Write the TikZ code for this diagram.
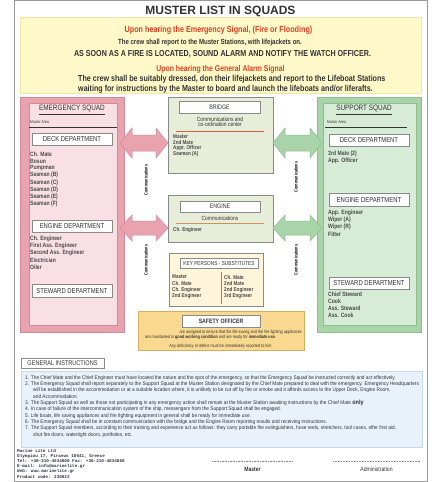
\documentclass[tikz,border=0pt]{standalone}
\usepackage{fontspec}
\setmainfont{Liberation Sans}
\newfontfamily\nar[FakeStretch=0.82]{Liberation Sans}
\newfontfamily\narw[FakeStretch=0.9]{Liberation Sans}
\newfontfamily\monof{Liberation Mono}
\usetikzlibrary{calc}
\definecolor{darktxt}{HTML}{333333}
\definecolor{memtxt}{HTML}{4A4A4A}
\definecolor{redtxt}{HTML}{E0401F}
\definecolor{framec}{HTML}{9A9A9A}
\definecolor{yellowbg}{HTML}{FFF8C8}
\definecolor{yellowbd}{HTML}{F2E6A8}
\definecolor{pinkout}{HTML}{E8A3AF}
\definecolor{pinkin}{HTML}{F9E0E5}
\definecolor{pinkbd}{HTML}{D4899A}
\definecolor{greenout}{HTML}{A9D3A9}
\definecolor{greenin}{HTML}{D6ECD6}
\definecolor{greenbd}{HTML}{8DBF8D}
\definecolor{bridgebg}{HTML}{E6EDD9}
\definecolor{keybg}{HTML}{FFF5DA}
\definecolor{safebg}{HTML}{F9D98F}
\definecolor{safebd}{HTML}{D4AE5E}
\definecolor{bluebg}{HTML}{E9F2FB}
\definecolor{bluebd}{HTML}{C4DBEF}
\definecolor{boxgrey}{HTML}{8A8A8A}
\definecolor{lineorange}{HTML}{E0603A}
\definecolor{linetan}{HTML}{D0905A}
\newcommand\myfs[2]{\fontsize{#1}{#2}\selectfont}
\newcommand\dbla[6]{%
  \filldraw[#1] (#2,#4) -- (#2+12,#4-#5) -- (#2+12,#4-#6) -- (#3-12,#4-#6) -- (#3-12,#4-#5) -- (#3,#4)
    -- (#3-12,#4+#5) -- (#3-12,#4+#6) -- (#2+12,#4+#6) -- (#2+12,#4+#5) -- cycle;}
\tikzset{
  hdr/.style={inner sep=0pt, font=\nar\bfseries\myfs{8.7}{9}, text=darktxt},
  hdrred/.style={hdr, text=redtxt},
  mem/.style={inner sep=0pt, anchor=west, font=\nar\bfseries\myfs{6.2}{6.5}, text=memtxt},
  memsm/.style={mem, font=\nar\bfseries\myfs{5.6}{6}},
  tiny/.style={inner sep=0pt, anchor=west, font=\nar\myfs{4.2}{5}, text=darktxt},
  deptbox/.style={draw=boxgrey, line width=0.8pt, fill=white, inner sep=0pt, minimum width=80pt, minimum height=12pt, font=\nar\myfs{7.2}{8}, text=darktxt},
  titlebox/.style={draw=boxgrey, line width=0.8pt, fill=white, inner sep=0pt, minimum width=81pt, minimum height=12pt, font=\nar\myfs{6.5}{7}, text=darktxt},
  sqtitle/.style={inner sep=0pt, font=\nar\myfs{7.8}{9}, text=darktxt},
  comm/.style={inner sep=0pt, rotate=90, font=\nar\bfseries\myfs{4.6}{5}, text=black},
  instr/.style={inner sep=0pt, anchor=west, font=\narw\myfs{5.3}{5.5}, text=darktxt},
  foot/.style={inner sep=0pt, anchor=west, font=\monof\bfseries\myfs{4.3}{5}, text=darktxt!90!blue},
  safetxt/.style={inner sep=0pt, font=\nar\myfs{4.6}{5}, text=darktxt},
  pinkarr/.style={fill=pinkout, draw=pinkbd, line width=0.5pt},
  greenarr/.style={fill=greenout, draw=greenbd, line width=0.5pt},
  small/.style={inner sep=0pt, font=\nar\myfs{6}{6.5}, text=darktxt}
}
\begin{document}
\begin{tikzpicture}[x=1pt,y=-1pt]
\useasboundingbox[fill=white] (0,0) rectangle (441,482);
% frame
\draw[framec, line width=0.8pt] (14,0.5) rectangle (427,481);
\node[inner sep=0pt, font=\bfseries\myfs{12}{14}, text=darktxt] (title) at (220.5,11) {MUSTER LIST IN SQUADS};

% header box
\node[fill=yellowbg, draw=yellowbd, minimum width=401pt, minimum height=76pt, inner sep=0pt] (hbox) at (220.5,55) {};
\node[hdrred, font=\nar\bfseries\myfs{8.8}{9}] (h1) at (218.5,30) {Upon hearing the Emergency Signal, (Fire or Flooding)};
\node[hdr, font=\nar\bfseries\myfs{7.4}{9}] (h2) at (210,43) {The crew shall report to the Muster Stations, with lifejackets on.};
\node[hdr] (h3) at (222.5,54) {AS SOON AS A FIRE IS LOCATED, SOUND ALARM AND NOTIFY THE WATCH OFFICER.};
\node[hdrred, font=\nar\bfseries\myfs{8.4}{9}] (h4) at (220.5,69.5) {Upon hearing the General Alarm Signal};
\node[hdr, anchor=west] (h5) at (78,79.5) {The crew shall be suitably dressed, don their lifejackets and report to the Lifeboat Stations};
\node[hdr, anchor=west] (h6) at (78,89.5) {waiting for instructions by the Master to board and launch the lifeboats and/or liferafts.};

% emergency squad
\node[fill=pinkout, draw=pinkbd, minimum width=104pt, minimum height=235pt, inner sep=0pt] (emo) at (72,214.5) {};
\node[fill=pinkin, draw=pinkbd, minimum width=88pt, minimum height=222pt, inner sep=0pt] (emi) at (73,214) {};
\node[sqtitle] (emt) at (72,110) {\underline{EMERGENCY SQUAD}};
\node[tiny] (ema) at (30,122.5) {Muster Area};
\draw[darktxt, line width=0.6pt] (29,127.5) -- (117,127.5);
\node[deptbox] (edeck) at (72,139) {DECK DEPARTMENT};
\foreach \t [count=\i] in {Ch. Mate, Bosun, Pumpman, Seaman (B), Seaman (C), Seaman (D), Seaman (E), Seaman (F)}
  \node[mem] (edm\i) at (30,{154+7.1*(\i-1)}) {\t};
\node[deptbox] (eeng) at (72,226) {ENGINE DEPARTMENT};
\foreach \t [count=\i] in {Ch. Engineer, First Ass. Engineer, Second Ass. Engineer, Electrician, Oiler}
  \node[mem] (eem\i) at (30,{239+7*(\i-1)}) {\t};
\node[deptbox, minimum height=13pt] (estw) at (72,291) {STEWARD DEPARTMENT};

% support squad
\node[fill=greenout, draw=greenbd, minimum width=104pt, minimum height=235pt, inner sep=0pt] (suo) at (369,214.5) {};
\node[fill=greenin, draw=greenbd, minimum width=93pt, minimum height=222pt, inner sep=0pt] (sui) at (369.5,214) {};
\node[sqtitle] (sut) at (364,110) {\underline{SUPPORT SQUAD}};
\node[tiny] (sua) at (327,122.5) {Muster Area};
\draw[darktxt, line width=0.6pt] (325,127.5) -- (407,127.5);
\node[deptbox] (sdeck) at (369,140.5) {DECK DEPARTMENT};
\foreach \t [count=\i] in {3rd Mate (2), App. Officer}
  \node[mem] (sdm\i) at (328,{154+7*(\i-1)}) {\t};
\node[deptbox, minimum height=13pt] (seng) at (369,200) {ENGINE DEPARTMENT};
\foreach \t [count=\i] in {App. Engineer, Wiper (A), Wiper (R), Fitter}
  \node[mem] (sem\i) at (328,{212.5+7.3*(\i-1)}) {\t};
\node[deptbox] (sstw) at (369,283) {STEWARD DEPARTMENT};
\foreach \t [count=\i] in {Chief Steward, Cook, Ass. Steward, Ass. Cook}
  \node[mem] (ssm\i) at (328,{294+7*(\i-1)}) {\t};

% bridge
\node[fill=bridgebg, draw=boxgrey, line width=0.8pt, minimum width=105pt, minimum height=76pt, inner sep=0pt] (bridge) at (220.5,135) {};
\node[titlebox] (bt) at (219.5,107) {BRIDGE};
\node[small] (bc1) at (220,119) {Communications and};
\node[small] (bc2) at (220,124.8) {co-ordination center};
\draw[lineorange, line width=0.9pt] (176,131) -- (264,131);
\foreach \t [count=\i] in {Master, 2nd Mate, Appr. Officer, Seaman (A)}
  \node[memsm] (bm\i) at (173,{137+5.7*(\i-1)}) {\t};

% engine
\node[fill=bridgebg, draw=boxgrey, line width=0.8pt, minimum width=105pt, minimum height=47pt, inner sep=0pt] (engine) at (220.5,218.5) {};
\node[titlebox, minimum width=80pt, minimum height=11pt] (et) at (220,206.5) {ENGINE};
\node[small] (ec) at (220,218) {Communications};
\draw[linetan, line width=1.3pt] (176,223.3) -- (264,223.3);
\node[memsm] (em1) at (173,230) {Ch. Engineer};

% key persons
\node[fill=keybg, draw=boxgrey, line width=0.8pt, minimum width=94pt, minimum height=53pt, inner sep=0pt] (key) at (216,279.5) {};
\node[titlebox, minimum width=78pt, minimum height=10pt, font=\nar\myfs{5.8}{6}] (kt) at (219,263) {KEY PERSONS - SUBSTITUTES};
\foreach \t [count=\i] in {Master, Ch. Mate, Ch. Engineer, 2nd Engineer}
  \node[memsm] (kl\i) at (172,{277+6.5*(\i-1)}) {\t};
\draw[lineorange, line width=0.8pt] (221,272) -- (221,304);
\foreach \t [count=\i] in {Ch. Mate, 2nd Mate, 2nd Engineer, 3rd Engineer}
  \node[memsm] (kr\i) at (224,{277+6.5*(\i-1)}) {\t};

% safety officer
\node[fill=safebg, draw=safebd, line width=0.8pt, minimum width=166pt, minimum height=39pt, inner sep=0pt] (safe) at (221,330.5) {};
\node[titlebox, minimum width=78pt, font=\nar\bfseries\myfs{6.3}{7}] (st) at (221,321) {SAFETY OFFICER};
\node[safetxt, anchor=east] (s1) at (302,332) {are assigned to ensure that the life-saving and the fire fighting appliances};
\node[safetxt, anchor=west] (s2) at (145,337.5) {are maintained in \textbf{good working condition} and are ready for \textbf{immediate use}.};
\node[safetxt] (s3) at (221,346) {Any deficiency or defect must be immediately reported to him.};

% arrows
\dbla{pinkarr}{120}{168}{143}{15}{8}
\dbla{pinkarr}{120}{168}{228}{13}{7}
\dbla{greenarr}{273}{322}{143}{15}{8}
\dbla{greenarr}{273}{322}{228}{13}{7}
\node[comm] (c1) at (146,180) {Communications};
\node[comm] (c2) at (146,260) {Communications};
\node[comm] (c3) at (296,177) {Communications};
\node[comm] (c4) at (296,260) {Communications};

% general instructions
\node[draw=boxgrey, line width=0.8pt, fill=white, minimum width=83pt, minimum height=10.5pt, inner sep=0pt, font=\nar\myfs{6.8}{7}, text=darktxt] (gi) at (62.5,363.5) {GENERAL INSTRUCTIONS};
\node[fill=bluebg, draw=bluebd, line width=0.8pt, minimum width=401pt, minimum height=76pt, inner sep=0pt] (gbox) at (221.5,409) {};
\node[instr] (g1) at (25,378) {1. The Chief Mate and the Chief Engineer must have located the nature and the spot of the emergency, so that the Emergency Squad be instructed correctly and act effectively.};
\node[instr] (g2) at (25,384.3) {2. The Emergency Squad shall report separately to the Support Squad at the Muster Station designated by the Chief Mate prepared to deal with the emergency. Emergency Headquarters};
\node[instr] (g2b) at (33,390.6) {will be established in the accommodation or at a suitable location where, it is unlikely to be cut off by fire or smoke and it affords access to the Upper Deck, Engine Room,};
\node[instr] (g2c) at (33,396.9) {and Accommodation.};
\node[instr] (g3) at (25,403.2) {3. The Support Squad as well as those not participating in any emergency action shall remain at the Muster Station awaiting instructions by the Chief Mate {\bfseries\myfs{6.2}{6}only}};
\node[instr] (g4) at (25,409.5) {4. In case of failure of the intercommunication system of the ship, messengers from the Support Squad shall be engaged.};
\node[instr] (g5) at (25,415.8) {5. Life boats, life saving appliances and fire fighting equipment in general shall be ready for immediate use.};
\node[instr] (g6) at (25,422.1) {6. The Emergency Squad shall be in constant communication with the bridge and the Engine Room reporting results and receiving instructions.};
\node[instr] (g7) at (25,428.4) {7. The Support Squad members, according to their training and experience act as follows: they carry portable fire extinguishers, hose reels, stretchers, tool cases, offer first aid,};
\node[instr] (g7b) at (33,434.7) {shut fire doors, watertight doors, portholes, etc.};

% footer
\foreach \t [count=\i] in {Marine Lite Ltd, {Olympiou 17, Piraeus 18541, Greece}, Tel: +30-210-4034800 Fax: +30-210-4034868, E-mail: info@marinelite.gr, Web: www.marinelite.gr, Product code: 230022}
  \node[foot] (f\i) at (17,{451+5.2*(\i-1)}) {\t};
\coordinate (m1) at (212,461);
\coordinate (m2) at (293,461);
\coordinate (a1) at (333,461);
\coordinate (a2) at (420,461);
\draw[boxgrey, dashed, dash pattern=on 1pt off 0.6pt, line width=0.5pt] (m1) -- (m2);
\draw[boxgrey, dashed, dash pattern=on 1pt off 0.6pt, line width=0.5pt] (a1) -- (a2);
\node[inner sep=0pt, font=\nar\bfseries\myfs{6.2}{7}, text=darktxt] (master) at (252.5,469) {Master};
\node[inner sep=0pt, font=\nar\myfs{6.2}{7}, text=darktxt] (admin) at (376.5,469) {Administration};
\end{tikzpicture}
\end{document}
